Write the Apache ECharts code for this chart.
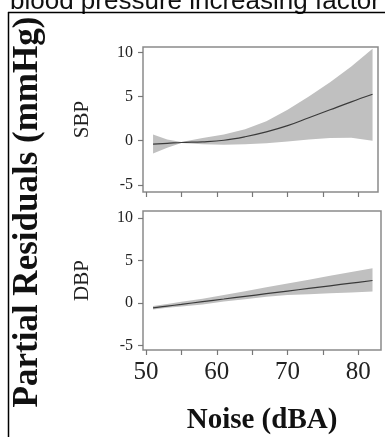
<!DOCTYPE html>
<html><head><meta charset="utf-8">
<script src="https://cdn.jsdelivr.net/npm/echarts@6/dist/echarts.min.js"></script>
<style>html,body{margin:0;padding:0;background:#fff;}#c{width:385px;height:437px;}</style>
</head><body><div id="c"></div>
<script>
// Noise levels (dBA)
const noise = [51, 53, 55, 58, 61, 64, 67, 70, 73, 76, 79, 82];
// SBP partial residual fit and 95% band
const sbpFit   = [-0.38, -0.3, -0.2, -0.12, 0.05, 0.45, 1.0, 1.7, 2.6, 3.5, 4.4, 5.25];
const sbpUpper = [0.7, 0.15, -0.15, 0.3, 0.7, 1.3, 2.2, 3.5, 5.0, 6.6, 8.4, 10.4];
const sbpLower = [-1.45, -0.8, -0.25, -0.4, -0.45, -0.4, -0.3, -0.1, 0.15, 0.3, 0.35, 0.0];
// DBP partial residual fit and 95% band
const dbpFit   = [-0.55, -0.35, -0.15, 0.17, 0.48, 0.79, 1.1, 1.41, 1.72, 2.03, 2.34, 2.65];
const dbpUpper = [-0.35, -0.1, 0.15, 0.5, 0.95, 1.4, 1.85, 2.3, 2.75, 3.2, 3.65, 4.1];
const dbpLower = [-0.75, -0.55, -0.4, -0.15, 0.2, 0.45, 0.75, 0.95, 1.05, 1.15, 1.25, 1.35];
// tick labels
const xTicks = [50, 55, 60, 65, 70, 75, 80];
const xLabels = [50, 60, 70, 80];
const yTicks = [-5, 0, 5, 10];
const panelNames = ['SBP', 'DBP'];
const xTitle = 'Noise (dBA)';
const yTitle = 'Partial Residuals (mmHg)';
const topText = 'blood pressure increasing factor';

const serif = '"Liberation Serif", "DejaVu Serif", serif';
const pair = (xs, ys) => xs.map((x, i) => [x, ys[i]]);

function bandSeries(idx, lower, upper, fit) {
  return [
    { type: 'custom', xAxisIndex: idx, yAxisIndex: idx, silent: true, z: 1,
      data: noise.map((x, i) => [x, lower[i], upper[i]]),
      renderItem: function (params, api) {
        if (params.dataIndex !== 0) return null;
        const up = noise.map((x, i) => api.coord([x, upper[i]]));
        const lo = noise.map((x, i) => api.coord([x, lower[i]])).reverse();
        return { type: 'polygon', shape: { points: up.concat(lo) },
                 style: { fill: '#c0c0c0', stroke: null } };
      }
    },
    { type: 'line', xAxisIndex: idx, yAxisIndex: idx, data: pair(noise, fit), symbol: 'none', z: 3,
      lineStyle: { color: '#3a3a3a', width: 1.2 }, smooth: 0.4 }
  ];
}

function xAxis(idx, showLabels, max) {
  return {
    type: 'value', gridIndex: idx, min: 49.58, max: max, position: 'bottom',
    axisLine: { show: false, onZero: false },
    splitLine: { show: false },
    axisTick: { show: true, length: 5, customValues: xTicks, lineStyle: { color: '#777', width: 1.2 } },
    axisLabel: { show: showLabels, customValues: xLabels, margin: 10, fontFamily: serif, fontSize: 25, color: '#222' },
    name: showLabels ? xTitle : '', nameLocation: 'middle', nameGap: 56,
    nameTextStyle: { fontFamily: serif, fontSize: 29, fontWeight: 'bold', color: '#111' }
  };
}
function yAxis(idx, min, max, name) {
  return {
    type: 'value', gridIndex: idx, min: min, max: max, position: 'left',
    axisLine: { show: false, onZero: false },
    splitLine: { show: false },
    axisTick: { show: true, length: 5, customValues: yTicks, lineStyle: { color: '#777', width: 1.2 } },
    axisLabel: { customValues: yTicks, margin: 10, fontFamily: serif, fontSize: 16, color: '#222' },
    name: name, nameLocation: 'middle', nameGap: 50, nameRotate: 90,
    nameTextStyle: { fontFamily: serif, fontSize: 21, color: '#222' }
  };
}

const chart = echarts.init(document.getElementById('c'), null, { renderer: 'canvas' });
chart.setOption({
  animation: false,
  backgroundColor: '#fff',
  grid: [
    { left: 143, top: 47, width: 235, height: 145, show: true, borderColor: '#8a8a8a', borderWidth: 1.5, backgroundColor: 'transparent' },
    { left: 143, top: 211, width: 238, height: 139, show: true, borderColor: '#8a8a8a', borderWidth: 1.5, backgroundColor: 'transparent' }
  ],
  xAxis: [xAxis(0, false, 82.77), xAxis(1, true, 83.2)],
  yAxis: [yAxis(0, -5.8, 10.6, panelNames[0]), yAxis(1, -5.5, 10.8, panelNames[1])],
  series: [...bandSeries(0, sbpLower, sbpUpper, sbpFit), ...bandSeries(1, dbpLower, dbpUpper, dbpFit)],
  graphic: [
    { type: 'text', left: 10, top: -11, style: { text: topText, font: '26px "Liberation Sans", Arial, sans-serif', fill: '#111' } },
    { type: 'line', shape: { x1: 8, y1: 12.5, x2: 385, y2: 12.5 }, style: { stroke: '#000', lineWidth: 1.5 } },
    { type: 'line', shape: { x1: 8.5, y1: 12, x2: 8.5, y2: 437 }, style: { stroke: '#000', lineWidth: 1.5 } },
    { type: 'text', x: 28, y: 212, rotation: Math.PI / 2,
      style: { text: yTitle, font: 'bold 35px "Liberation Serif", serif', fill: '#111', align: 'center', verticalAlign: 'middle' } }
  ]
});
</script></body></html>
